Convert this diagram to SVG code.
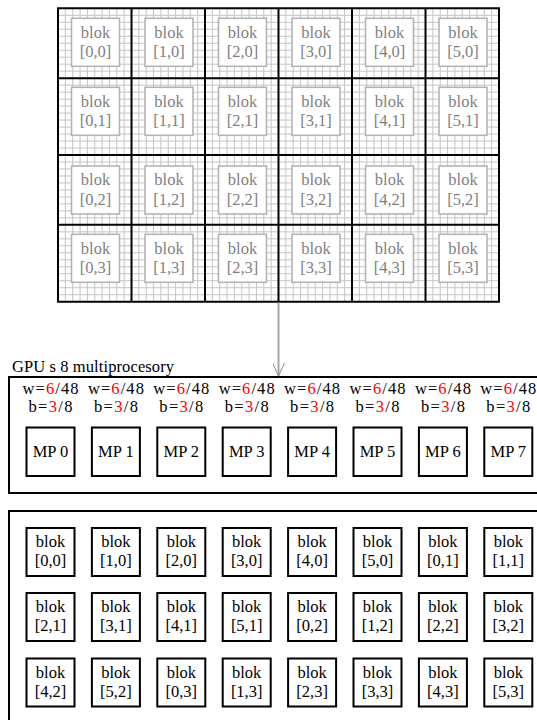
<svg xmlns="http://www.w3.org/2000/svg" width="537" height="720" viewBox="0 0 537 720">
<style>
text{font-family:"Liberation Serif","Times New Roman",serif;font-size:16.5px;text-anchor:middle}
.g{fill:#7f7f7f}
.k{fill:#000}
.r{fill:#ff0000}
.fine{stroke:#c4c4c4;stroke-width:1;fill:none}
.thick{stroke:#000;stroke-width:2;fill:none}
.tb{fill:#fff;stroke:#b4b4b4;stroke-width:1.6}
.bb{fill:#fff;stroke:#000;stroke-width:2}
.frame{fill:none;stroke:#000;stroke-width:2}
</style>
<defs>
<marker id="ah" markerWidth="14" markerHeight="16" refX="6" refY="13" orient="0" markerUnits="userSpaceOnUse">
<polyline points="0,0 6,13 12,0" fill="none" stroke="#8c8c8c" stroke-width="1"/>
</marker>
</defs>
<rect width="537" height="720" fill="#fff"/>
<g id="grid">
<path class="fine" d="M65.35 8.3V301.7M72.7 8.3V301.7M80.05 8.3V301.7M87.4 8.3V301.7M94.75 8.3V301.7M102.1 8.3V301.7M109.45 8.3V301.7M116.8 8.3V301.7M124.15 8.3V301.7M138.85 8.3V301.7M146.2 8.3V301.7M153.55 8.3V301.7M160.9 8.3V301.7M168.25 8.3V301.7M175.6 8.3V301.7M182.95 8.3V301.7M190.3 8.3V301.7M197.65 8.3V301.7M212.35 8.3V301.7M219.7 8.3V301.7M227.05 8.3V301.7M234.4 8.3V301.7M241.75 8.3V301.7M249.1 8.3V301.7M256.45 8.3V301.7M263.8 8.3V301.7M271.15 8.3V301.7M285.85 8.3V301.7M293.2 8.3V301.7M300.55 8.3V301.7M307.9 8.3V301.7M315.25 8.3V301.7M322.6 8.3V301.7M329.95 8.3V301.7M337.3 8.3V301.7M344.65 8.3V301.7M359.35 8.3V301.7M366.7 8.3V301.7M374.05 8.3V301.7M381.4 8.3V301.7M388.75 8.3V301.7M396.1 8.3V301.7M403.45 8.3V301.7M410.8 8.3V301.7M418.15 8.3V301.7M432.85 8.3V301.7M440.2 8.3V301.7M447.55 8.3V301.7M454.9 8.3V301.7M462.25 8.3V301.7M469.6 8.3V301.7M476.95 8.3V301.7M484.3 8.3V301.7M491.65 8.3V301.7
M58 15.29H499M58 22.27H499M58 29.26H499M58 36.24H499M58 43.23H499M58 50.21H499M58 57.2H499M58 64.19H499M58 71.17H499M58 85.14H499M58 92.13H499M58 99.11H499M58 106.1H499M58 113.09H499M58 120.07H499M58 127.06H499M58 134.04H499M58 141.03H499M58 148.01H499M58 161.99H499M58 168.97H499M58 175.96H499M58 182.94H499M58 189.93H499M58 196.91H499M58 203.9H499M58 210.89H499M58 217.87H499M58 231.84H499M58 238.83H499M58 245.81H499M58 252.8H499M58 259.79H499M58 266.77H499M58 273.76H499M58 280.74H499M58 287.73H499M58 294.71H499"/>
</g>
<g id="top-blocks">
<g id="t00"><rect class="tb" x="71.5" y="18.3" width="48" height="48"/><text class="g" x="95.5" y="37.7">blok</text><text class="g" x="95.5" y="57.3">[0,0]</text></g>
<g id="t10"><rect class="tb" x="145" y="18.3" width="48" height="48"/><text class="g" x="169" y="37.7">blok</text><text class="g" x="169" y="57.3">[1,0]</text></g>
<g id="t20"><rect class="tb" x="218.5" y="18.3" width="48" height="48"/><text class="g" x="242.5" y="37.7">blok</text><text class="g" x="242.5" y="57.3">[2,0]</text></g>
<g id="t30"><rect class="tb" x="292" y="18.3" width="48" height="48"/><text class="g" x="316" y="37.7">blok</text><text class="g" x="316" y="57.3">[3,0]</text></g>
<g id="t40"><rect class="tb" x="365.5" y="18.3" width="48" height="48"/><text class="g" x="389.5" y="37.7">blok</text><text class="g" x="389.5" y="57.3">[4,0]</text></g>
<g id="t50"><rect class="tb" x="439" y="18.3" width="48" height="48"/><text class="g" x="463" y="37.7">blok</text><text class="g" x="463" y="57.3">[5,0]</text></g>

<g id="t01"><rect class="tb" x="71.5" y="87.3" width="48" height="48"/><text class="g" x="95.5" y="106.7">blok</text><text class="g" x="95.5" y="126.3">[0,1]</text></g>
<g id="t11"><rect class="tb" x="145" y="87.3" width="48" height="48"/><text class="g" x="169" y="106.7">blok</text><text class="g" x="169" y="126.3">[1,1]</text></g>
<g id="t21"><rect class="tb" x="218.5" y="87.3" width="48" height="48"/><text class="g" x="242.5" y="106.7">blok</text><text class="g" x="242.5" y="126.3">[2,1]</text></g>
<g id="t31"><rect class="tb" x="292" y="87.3" width="48" height="48"/><text class="g" x="316" y="106.7">blok</text><text class="g" x="316" y="126.3">[3,1]</text></g>
<g id="t41"><rect class="tb" x="365.5" y="87.3" width="48" height="48"/><text class="g" x="389.5" y="106.7">blok</text><text class="g" x="389.5" y="126.3">[4,1]</text></g>
<g id="t51"><rect class="tb" x="439" y="87.3" width="48" height="48"/><text class="g" x="463" y="106.7">blok</text><text class="g" x="463" y="126.3">[5,1]</text></g>

<g id="t02"><rect class="tb" x="71.5" y="166" width="48" height="48"/><text class="g" x="95.5" y="185.4">blok</text><text class="g" x="95.5" y="205">[0,2]</text></g>
<g id="t12"><rect class="tb" x="145" y="166" width="48" height="48"/><text class="g" x="169" y="185.4">blok</text><text class="g" x="169" y="205">[1,2]</text></g>
<g id="t22"><rect class="tb" x="218.5" y="166" width="48" height="48"/><text class="g" x="242.5" y="185.4">blok</text><text class="g" x="242.5" y="205">[2,2]</text></g>
<g id="t32"><rect class="tb" x="292" y="166" width="48" height="48"/><text class="g" x="316" y="185.4">blok</text><text class="g" x="316" y="205">[3,2]</text></g>
<g id="t42"><rect class="tb" x="365.5" y="166" width="48" height="48"/><text class="g" x="389.5" y="185.4">blok</text><text class="g" x="389.5" y="205">[4,2]</text></g>
<g id="t52"><rect class="tb" x="439" y="166" width="48" height="48"/><text class="g" x="463" y="185.4">blok</text><text class="g" x="463" y="205">[5,2]</text></g>

<g id="t03"><rect class="tb" x="71.5" y="234.3" width="48" height="48"/><text class="g" x="95.5" y="253.7">blok</text><text class="g" x="95.5" y="273.3">[0,3]</text></g>
<g id="t13"><rect class="tb" x="145" y="234.3" width="48" height="48"/><text class="g" x="169" y="253.7">blok</text><text class="g" x="169" y="273.3">[1,3]</text></g>
<g id="t23"><rect class="tb" x="218.5" y="234.3" width="48" height="48"/><text class="g" x="242.5" y="253.7">blok</text><text class="g" x="242.5" y="273.3">[2,3]</text></g>
<g id="t33"><rect class="tb" x="292" y="234.3" width="48" height="48"/><text class="g" x="316" y="253.7">blok</text><text class="g" x="316" y="273.3">[3,3]</text></g>
<g id="t43"><rect class="tb" x="365.5" y="234.3" width="48" height="48"/><text class="g" x="389.5" y="253.7">blok</text><text class="g" x="389.5" y="273.3">[4,3]</text></g>
<g id="t53"><rect class="tb" x="439" y="234.3" width="48" height="48"/><text class="g" x="463" y="253.7">blok</text><text class="g" x="463" y="273.3">[5,3]</text></g>
</g>
<g id="grid-thick">
<path class="thick" d="M58 8.3H499V301.7H58ZM131.5 8.3V301.7M205 8.3V301.7M278.5 8.3V301.7M352 8.3V301.7M425.5 8.3V301.7M58 78.16H499M58 155H499M58 224.86H499"/>
</g>
<g id="connectors">
<line x1="278.5" y1="302.7" x2="278.5" y2="376" stroke="#a6a6a6" stroke-width="2" marker-end="url(#ah)"/>
</g>
<g id="gpu">
<text x="12" y="372" style="text-anchor:start" textLength="162" lengthAdjust="spacing">GPU s 8 multiprocesory</text>
<rect class="frame" x="9" y="377" width="540" height="116"/>
</g>
<g id="mps">
<g id="mp0"><text x="50.5" y="394" textLength="56" lengthAdjust="spacing">w=<tspan class="r">6</tspan>/48</text><text x="50.5" y="411.5" textLength="44" lengthAdjust="spacing">b=<tspan class="r">3</tspan>/8</text><rect class="bb" x="26.5" y="427.5" width="48" height="48.5"/><text x="50.5" y="457">MP 0</text></g>
<g id="mp1"><text x="115.9" y="394" textLength="56" lengthAdjust="spacing">w=<tspan class="r">6</tspan>/48</text><text x="115.9" y="411.5" textLength="44" lengthAdjust="spacing">b=<tspan class="r">3</tspan>/8</text><rect class="bb" x="91.9" y="427.5" width="48" height="48.5"/><text x="115.9" y="457">MP 1</text></g>
<g id="mp2"><text x="181.3" y="394" textLength="56" lengthAdjust="spacing">w=<tspan class="r">6</tspan>/48</text><text x="181.3" y="411.5" textLength="44" lengthAdjust="spacing">b=<tspan class="r">3</tspan>/8</text><rect class="bb" x="157.3" y="427.5" width="48" height="48.5"/><text x="181.3" y="457">MP 2</text></g>
<g id="mp3"><text x="246.7" y="394" textLength="56" lengthAdjust="spacing">w=<tspan class="r">6</tspan>/48</text><text x="246.7" y="411.5" textLength="44" lengthAdjust="spacing">b=<tspan class="r">3</tspan>/8</text><rect class="bb" x="222.7" y="427.5" width="48" height="48.5"/><text x="246.7" y="457">MP 3</text></g>
<g id="mp4"><text x="312.1" y="394" textLength="56" lengthAdjust="spacing">w=<tspan class="r">6</tspan>/48</text><text x="312.1" y="411.5" textLength="44" lengthAdjust="spacing">b=<tspan class="r">3</tspan>/8</text><rect class="bb" x="288.1" y="427.5" width="48" height="48.5"/><text x="312.1" y="457">MP 4</text></g>
<g id="mp5"><text x="377.5" y="394" textLength="56" lengthAdjust="spacing">w=<tspan class="r">6</tspan>/48</text><text x="377.5" y="411.5" textLength="44" lengthAdjust="spacing">b=<tspan class="r">3</tspan>/8</text><rect class="bb" x="353.5" y="427.5" width="48" height="48.5"/><text x="377.5" y="457">MP 5</text></g>
<g id="mp6"><text x="442.9" y="394" textLength="56" lengthAdjust="spacing">w=<tspan class="r">6</tspan>/48</text><text x="442.9" y="411.5" textLength="44" lengthAdjust="spacing">b=<tspan class="r">3</tspan>/8</text><rect class="bb" x="418.9" y="427.5" width="48" height="48.5"/><text x="442.9" y="457">MP 6</text></g>
<g id="mp7"><text x="508.3" y="394" textLength="56" lengthAdjust="spacing">w=<tspan class="r">6</tspan>/48</text><text x="508.3" y="411.5" textLength="44" lengthAdjust="spacing">b=<tspan class="r">3</tspan>/8</text><rect class="bb" x="484.3" y="427.5" width="48" height="48.5"/><text x="508.3" y="457">MP 7</text></g>
</g>
<g id="queue">
<rect class="frame" x="9" y="511" width="540" height="220"/>
</g>
<g id="queue-blocks">
<g id="q0"><rect class="bb" x="26.5" y="528" width="48" height="48"/><text x="50.5" y="547">blok</text><text x="50.5" y="566.3">[0,0]</text></g>
<g id="q1"><rect class="bb" x="91.9" y="528" width="48" height="48"/><text x="115.9" y="547">blok</text><text x="115.9" y="566.3">[1,0]</text></g>
<g id="q2"><rect class="bb" x="157.3" y="528" width="48" height="48"/><text x="181.3" y="547">blok</text><text x="181.3" y="566.3">[2,0]</text></g>
<g id="q3"><rect class="bb" x="222.7" y="528" width="48" height="48"/><text x="246.7" y="547">blok</text><text x="246.7" y="566.3">[3,0]</text></g>
<g id="q4"><rect class="bb" x="288.1" y="528" width="48" height="48"/><text x="312.1" y="547">blok</text><text x="312.1" y="566.3">[4,0]</text></g>
<g id="q5"><rect class="bb" x="353.5" y="528" width="48" height="48"/><text x="377.5" y="547">blok</text><text x="377.5" y="566.3">[5,0]</text></g>
<g id="q6"><rect class="bb" x="418.9" y="528" width="48" height="48"/><text x="442.9" y="547">blok</text><text x="442.9" y="566.3">[0,1]</text></g>
<g id="q7"><rect class="bb" x="484.3" y="528" width="48" height="48"/><text x="508.3" y="547">blok</text><text x="508.3" y="566.3">[1,1]</text></g>

<g id="q8"><rect class="bb" x="26.5" y="593" width="48" height="48"/><text x="50.5" y="612">blok</text><text x="50.5" y="631.3">[2,1]</text></g>
<g id="q9"><rect class="bb" x="91.9" y="593" width="48" height="48"/><text x="115.9" y="612">blok</text><text x="115.9" y="631.3">[3,1]</text></g>
<g id="q10"><rect class="bb" x="157.3" y="593" width="48" height="48"/><text x="181.3" y="612">blok</text><text x="181.3" y="631.3">[4,1]</text></g>
<g id="q11"><rect class="bb" x="222.7" y="593" width="48" height="48"/><text x="246.7" y="612">blok</text><text x="246.7" y="631.3">[5,1]</text></g>
<g id="q12"><rect class="bb" x="288.1" y="593" width="48" height="48"/><text x="312.1" y="612">blok</text><text x="312.1" y="631.3">[0,2]</text></g>
<g id="q13"><rect class="bb" x="353.5" y="593" width="48" height="48"/><text x="377.5" y="612">blok</text><text x="377.5" y="631.3">[1,2]</text></g>
<g id="q14"><rect class="bb" x="418.9" y="593" width="48" height="48"/><text x="442.9" y="612">blok</text><text x="442.9" y="631.3">[2,2]</text></g>
<g id="q15"><rect class="bb" x="484.3" y="593" width="48" height="48"/><text x="508.3" y="612">blok</text><text x="508.3" y="631.3">[3,2]</text></g>

<g id="q16"><rect class="bb" x="26.5" y="658.5" width="48" height="48"/><text x="50.5" y="677.5">blok</text><text x="50.5" y="696.8">[4,2]</text></g>
<g id="q17"><rect class="bb" x="91.9" y="658.5" width="48" height="48"/><text x="115.9" y="677.5">blok</text><text x="115.9" y="696.8">[5,2]</text></g>
<g id="q18"><rect class="bb" x="157.3" y="658.5" width="48" height="48"/><text x="181.3" y="677.5">blok</text><text x="181.3" y="696.8">[0,3]</text></g>
<g id="q19"><rect class="bb" x="222.7" y="658.5" width="48" height="48"/><text x="246.7" y="677.5">blok</text><text x="246.7" y="696.8">[1,3]</text></g>
<g id="q20"><rect class="bb" x="288.1" y="658.5" width="48" height="48"/><text x="312.1" y="677.5">blok</text><text x="312.1" y="696.8">[2,3]</text></g>
<g id="q21"><rect class="bb" x="353.5" y="658.5" width="48" height="48"/><text x="377.5" y="677.5">blok</text><text x="377.5" y="696.8">[3,3]</text></g>
<g id="q22"><rect class="bb" x="418.9" y="658.5" width="48" height="48"/><text x="442.9" y="677.5">blok</text><text x="442.9" y="696.8">[4,3]</text></g>
<g id="q23"><rect class="bb" x="484.3" y="658.5" width="48" height="48"/><text x="508.3" y="677.5">blok</text><text x="508.3" y="696.8">[5,3]</text></g>
</g>
</svg>
